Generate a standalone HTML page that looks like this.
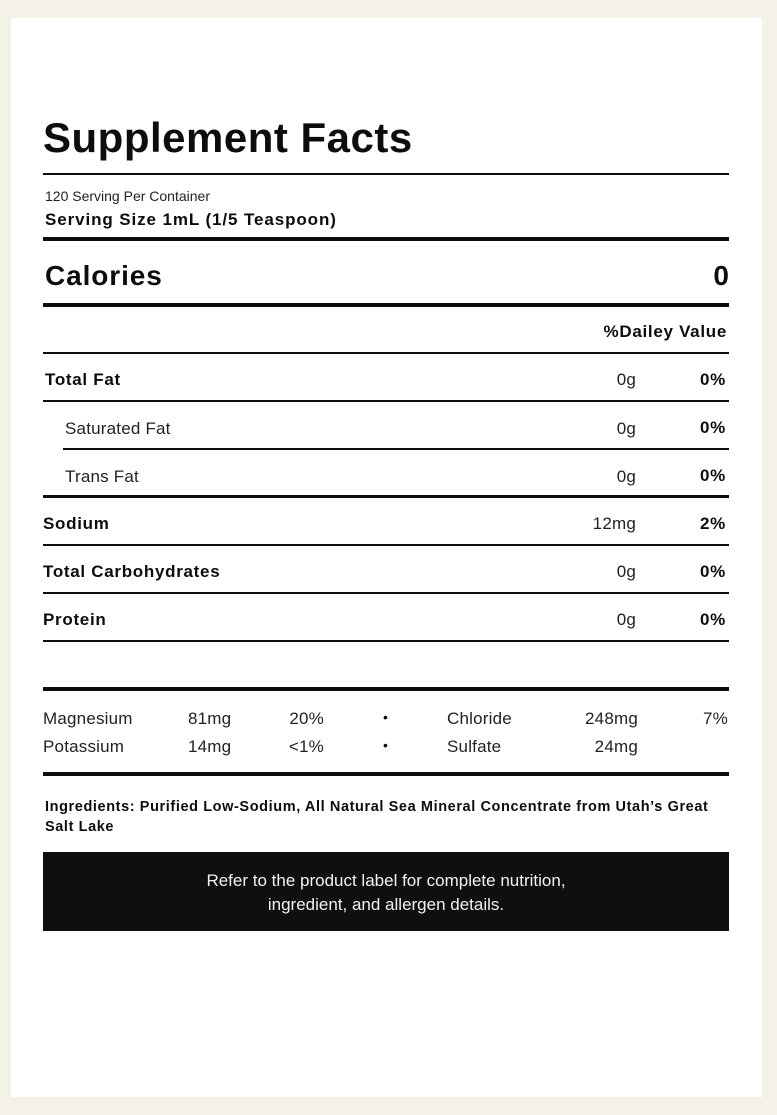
<!DOCTYPE html>
<html><head><meta charset="utf-8"><style>
body{margin:0;width:777px;height:1115px;background:#f4f2e6;font-family:"Liberation Sans",sans-serif;color:#0d0d0d;position:relative;overflow:hidden}
.card{position:absolute;left:11px;top:18px;width:751px;height:1079px;background:#fff}
.t{position:absolute;line-height:1;white-space:nowrap}
.r{text-align:right}
.b{font-weight:bold}
.bl{font-weight:bold;font-size:17px;letter-spacing:0.7px}
.l{position:absolute;left:43px;width:686px;background:#0d0d0d}
.m{font-size:17px;color:#222;letter-spacing:0.2px}
</style></head><body>
<div class="card"></div>
<div class="t b" style="left:43px;top:117px;font-size:42px;letter-spacing:0.5px">Supplement Facts</div>
<div class="l" style="top:173px;height:2px"></div>
<div class="t" style="left:45px;top:189px;font-size:14px;color:#222">120 Serving Per Container</div>
<div class="t b" style="left:45px;top:211px;font-size:17px;letter-spacing:0.9px">Serving Size 1mL (1/5 Teaspoon)</div>
<div class="l" style="top:237px;height:4px"></div>
<div class="t b" style="left:45px;top:262px;font-size:28px;letter-spacing:0.9px">Calories</div>
<div class="t b r" style="right:48px;top:262px;font-size:28px">0</div>
<div class="l" style="top:303px;height:4px"></div>
<div class="t bl r" style="right:50px;top:323px">%Dailey Value</div>
<div class="l" style="top:352px;height:2px"></div>

<div class="t bl" style="left:45px;top:371px">Total Fat</div>
<div class="t r m" style="right:141px;top:371px">0g</div>
<div class="t bl r" style="right:51px;top:371px">0%</div>
<div class="l" style="top:400px;height:2px"></div>

<div class="t m" style="left:65px;top:420px">Saturated Fat</div>
<div class="t r m" style="right:141px;top:420px">0g</div>
<div class="t bl r" style="right:51px;top:419px">0%</div>
<div class="l" style="top:448px;left:63px;width:666px;height:2px"></div>

<div class="t m" style="left:65px;top:468px">Trans Fat</div>
<div class="t r m" style="right:141px;top:468px">0g</div>
<div class="t bl r" style="right:51px;top:467px">0%</div>
<div class="l" style="top:495px;height:3px"></div>

<div class="t bl" style="left:43px;top:515px">Sodium</div>
<div class="t r m" style="right:141px;top:515px">12mg</div>
<div class="t bl r" style="right:51px;top:515px">2%</div>
<div class="l" style="top:544px;height:2px"></div>

<div class="t bl" style="left:43px;top:563px">Total Carbohydrates</div>
<div class="t r m" style="right:141px;top:563px">0g</div>
<div class="t bl r" style="right:51px;top:563px">0%</div>
<div class="l" style="top:592px;height:2px"></div>

<div class="t bl" style="left:43px;top:611px">Protein</div>
<div class="t r m" style="right:141px;top:611px">0g</div>
<div class="t bl r" style="right:51px;top:611px">0%</div>
<div class="l" style="top:640px;height:2px"></div>

<div class="l" style="top:687px;height:4px"></div>
<div class="t m" style="left:43px;top:710px">Magnesium</div>
<div class="t m" style="left:188px;top:710px">81mg</div>
<div class="t r m" style="right:453px;top:710px">20%</div>
<div class="t" style="left:383px;top:710px;font-size:14px">•</div>
<div class="t m" style="left:447px;top:710px">Chloride</div>
<div class="t r m" style="right:139px;top:710px">248mg</div>
<div class="t r m" style="right:49px;top:710px">7%</div>

<div class="t m" style="left:43px;top:738px">Potassium</div>
<div class="t m" style="left:188px;top:738px">14mg</div>
<div class="t r m" style="right:453px;top:738px">&lt;1%</div>
<div class="t" style="left:383px;top:738px;font-size:14px">•</div>
<div class="t m" style="left:447px;top:738px">Sulfate</div>
<div class="t r m" style="right:139px;top:738px">24mg</div>
<div class="l" style="top:772px;height:4px"></div>

<div class="t b" style="left:45px;top:797px;font-size:14.5px;letter-spacing:0.6px;line-height:20px">Ingredients: Purified Low-Sodium, All Natural Sea Mineral Concentrate from Utah’s Great<br>Salt Lake</div>

<div style="position:absolute;left:43px;top:852px;width:686px;height:79px;background:#0f0f0f;color:#f2f2f2;font-size:17px;line-height:24px;text-align:center;padding-top:17px;box-sizing:border-box">Refer to the product label for complete nutrition,<br>ingredient, and allergen details.</div>
</body></html>
